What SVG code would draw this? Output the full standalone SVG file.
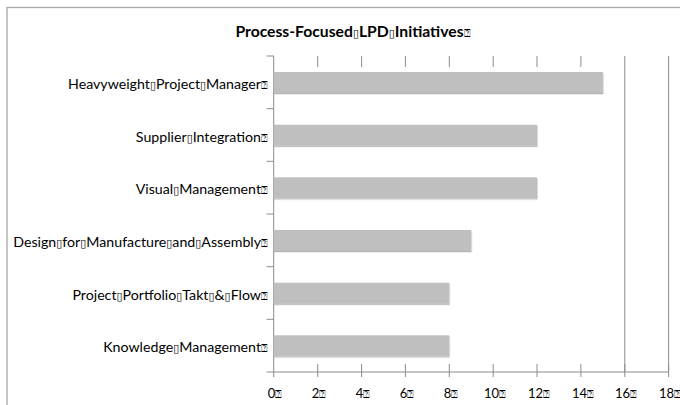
<svg xmlns="http://www.w3.org/2000/svg" width="680" height="405" viewBox="0 0 680 405">
  <style>
    .frame { fill: #ffffff; stroke: #a6a6a6; stroke-width: 1.3; }
    .axis { stroke: #8c8c8c; stroke-width: 1; fill: none; }
    .bar { fill: #bfbfbf; filter: url(#shade); }
    .title { font-family: Lato, "Open Sans", "DejaVu Sans", sans-serif; font-weight: bold; font-size: 15.7px; fill: #000; text-anchor: middle; }
    .cat { font-family: Lato, "Open Sans", "DejaVu Sans", sans-serif; font-size: 14.2px; fill: #000; text-anchor: end; }
    .tick { font-family: Lato, "Open Sans", "DejaVu Sans", sans-serif; font-size: 13px; fill: #000; text-anchor: middle; }
    .box { font-family: "DejaVu Sans", sans-serif; font-size: 11px; font-weight: normal; }
  </style>
  <defs>
    <filter id="shade" x="-5%" y="-30%" width="110%" height="170%">
      <feDropShadow dx="0.5" dy="1.2" stdDeviation="0.7" flood-color="#000" flood-opacity="0.3"/>
    </filter>
  </defs>

  <!-- chart frame -->
  <rect class="frame" x="7" y="7.5" width="700" height="420"/>

  <text id="title" class="title" x="353" y="36.5">Process-Focused<tspan class="box">▯</tspan>LPD<tspan class="box">▯</tspan>Initiatives<tspan class="box">⍰</tspan></text>

  <!-- gridlines and axes -->
  <g id="axes">
    <path class="axis" d="M317.7 56V67M361.6 56V67M405.4 56V67M449.3 56V67M493.2 56V67M537 56V67M580.9 56V67"/>
    <path class="axis" d="M624.8 56V372M668.6 56V372"/>
    <path class="axis" d="M273.7 56V377M266.5 56H273.7M266.5 108.7H273.7M266.5 161.3H273.7M266.5 214H273.7M266.5 266.7H273.7M266.5 319.3H273.7M266.5 372H273.7"/>
    <path class="axis" d="M273.7 372H668.6M317.7 364V377M361.6 364V377M405.4 364V377M449.3 364V377M493.2 364V377M537 364V377M580.9 364V377M624.8 364V377M668.6 364V377"/>
  </g>

  <!-- bars: 0 at x=273.7, 21.94 px per unit -->
  <g id="bars">
    <rect class="bar" x="273.7" y="72" width="329.1" height="21"/>
    <rect class="bar" x="273.7" y="124.7" width="263.3" height="21"/>
    <rect class="bar" x="273.7" y="177.3" width="263.3" height="21"/>
    <rect class="bar" x="273.7" y="230" width="197.5" height="21"/>
    <rect class="bar" x="273.7" y="282.7" width="175.5" height="21"/>
    <rect class="bar" x="273.7" y="335.3" width="175.5" height="21"/>
  </g>

  <g id="category-labels">
    <text class="cat" x="268" y="89">Heavyweight<tspan class="box">▯</tspan>Project<tspan class="box">▯</tspan>Manager<tspan class="box">⍰</tspan></text>
    <text class="cat" x="268" y="141.7">Supplier<tspan class="box">▯</tspan>Integration<tspan class="box">⍰</tspan></text>
    <text class="cat" x="268" y="194.4">Visual<tspan class="box">▯</tspan>Management<tspan class="box">⍰</tspan></text>
    <text class="cat" x="268" y="247">Design<tspan class="box">▯</tspan>for<tspan class="box">▯</tspan>Manufacture<tspan class="box">▯</tspan>and<tspan class="box">▯</tspan>Assembly<tspan class="box">⍰</tspan></text>
    <text class="cat" x="268" y="299.7">Project<tspan class="box">▯</tspan>Portfolio<tspan class="box">▯</tspan>Takt<tspan class="box">▯</tspan>&amp;<tspan class="box">▯</tspan>Flow<tspan class="box">⍰</tspan></text>
    <text class="cat" x="268" y="352.4">Knowledge<tspan class="box">▯</tspan>Management<tspan class="box">⍰</tspan></text>
  </g>

  <g id="value-labels">
    <text class="tick" x="275" y="397.5">0<tspan class="box">⍰</tspan></text>
    <text class="tick" x="319" y="397.5">2<tspan class="box">⍰</tspan></text>
    <text class="tick" x="363" y="397.5">4<tspan class="box">⍰</tspan></text>
    <text class="tick" x="407" y="397.5">6<tspan class="box">⍰</tspan></text>
    <text class="tick" x="451" y="397.5">8<tspan class="box">⍰</tspan></text>
    <text class="tick" x="495" y="397.5">10<tspan class="box">⍰</tspan></text>
    <text class="tick" x="539" y="397.5">12<tspan class="box">⍰</tspan></text>
    <text class="tick" x="583" y="397.5">14<tspan class="box">⍰</tspan></text>
    <text class="tick" x="626" y="397.5">16<tspan class="box">⍰</tspan></text>
    <text class="tick" x="670" y="397.5">18<tspan class="box">⍰</tspan></text>
  </g>
</svg>
